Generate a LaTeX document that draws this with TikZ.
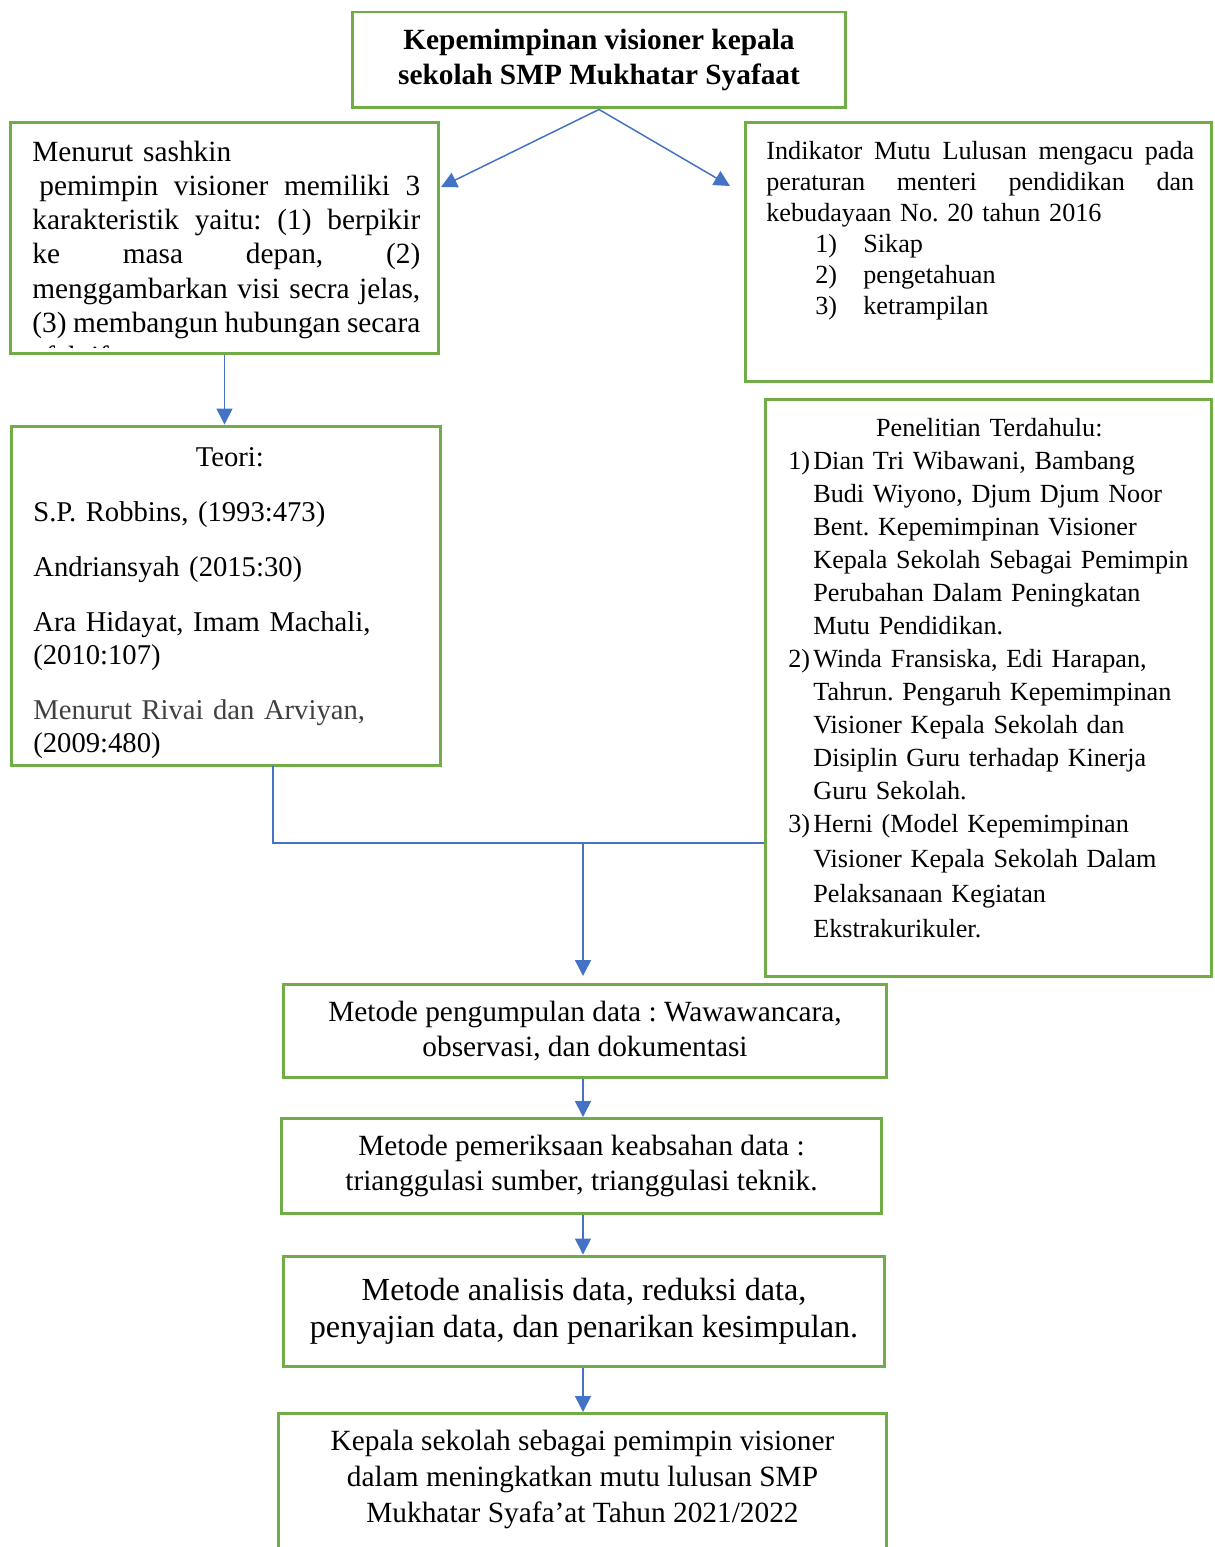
\documentclass[tikz,border=0pt]{standalone}
\usepackage{fontspec}
\setmainfont{Liberation Serif}
\usetikzlibrary{arrows.meta}
\definecolor{boxgreen}{HTML}{70AD47}
\definecolor{linkblue}{HTML}{4472C4}
\definecolor{greytext}{HTML}{404040}
\frenchspacing
% one stretched line of justified text
\newcommand{\jline}[1]{\makebox[\linewidth][s]{\spaceskip=0pt\xspaceskip=0pt #1}\\}
\tikzset{
  box/.style={draw=boxgreen,line width=1.7pt,rectangle,inner sep=0pt},
  txt/.style={inner sep=0pt,align=left,font=\fontsize{16.7}{19.4}\selectfont},
  smalltxt/.style={inner sep=0pt,align=left,font=\fontsize{14.9}{18.8}\selectfont},
  link/.style={draw=linkblue,line width=0.85pt},
  arr/.style={link,-{Triangle[width=9pt,length=9pt]}},
}
\begin{document}
\begin{tikzpicture}[x=0.02cm,y=-0.02cm]
\useasboundingbox (0,0) rectangle (1214,1547);
% boxes
\node[box,minimum width=9.88cm,minimum height=1.92cm,align=center,
  font=\fontsize{16.7}{19.9}\selectfont\bfseries] (top) at (599,60)
  {Kepemimpinan visioner kepala\\sekolah SMP Mukhatar Syafaat};
\node[box,minimum width=8.58cm,minimum height=4.64cm] (sash) at (224.5,238) {};
\node[box,minimum width=9.34cm,minimum height=5.2cm] (ind) at (978.5,252) {};
\node[box,minimum width=8.6cm,minimum height=6.8cm] (teori) at (226,596) {};
\node[box,minimum width=8.94cm,minimum height=11.56cm] (lit) at (988.5,688) {};
\node[box,minimum width=12.08cm,minimum height=1.86cm,align=center,
  font=\fontsize{16.7}{19.9}\selectfont] (m1) at (585,1031)
  {Metode pengumpulan data : Wawawancara,\\observasi, dan dokumentasi};
\node[box,minimum width=12.02cm,minimum height=1.9cm,align=center,
  font=\fontsize{16.7}{19.9}\selectfont] (m2) at (581.5,1166)
  {Metode pemeriksaan keabsahan data :\\trianggulasi sumber, trianggulasi teknik.};
\node[box,minimum width=12.04cm,minimum height=2.2cm,align=center,
  font=\fontsize{18.3}{21}\selectfont] (m3) at (584,1311)
  {Metode analisis data, reduksi data,\\penyajian data, dan penarikan kesimpulan.};
\node[box,minimum width=12.18cm,minimum height=3.2cm,anchor=north] (m4) at (582.5,1412) {};
\node[inner sep=0pt,align=center,font=\fontsize{16.7}{20.5}\selectfont] (m4t) at (582.5,1479)
  {Kepala sekolah sebagai pemimpin visioner\\dalam meningkatkan mutu lulusan SMP\\Mukhatar Syafa’at Tahun 2021/2022};
% texts
\begin{scope}
\clip (11,122) rectangle (440,347);
\node[txt,text width=7.76cm,anchor=north west] (sasht) at (32,141)
  {Menurut sashkin\\
   \jline{\kern4pt pemimpin visioner memiliki 3}
   \jline{karakteristik yaitu: (1) berpikir}
   \jline{ke masa depan, (2)}
   \jline{menggambarkan visi secra jelas,}
   \jline{(3) membangun hubungan secara}
   efektif};
\end{scope}
\node[smalltxt,font=\fontsize{14.9}{17.6}\selectfont,text width=8.56cm,anchor=north west] (indt) at (766,141)
  {\jline{Indikator Mutu Lulusan mengacu pada}
   \jline{peraturan menteri pendidikan dan}
   kebudayaan No. 20 tahun 2016\\
   \hspace*{0.98cm}\makebox[0.96cm][l]{1)}Sikap\\
   \hspace*{0.98cm}\makebox[0.96cm][l]{2)}pengetahuan\\
   \hspace*{0.98cm}\makebox[0.96cm][l]{3)}ketrampilan};
\node[txt,font=\fontsize{16.3}{18.8}\selectfont,text width=8cm,anchor=north west] (teorit) at (33,447)
  {\makebox[7.86cm]{Teori:}\\[12.5pt]
   S.P. Robbins, (1993:473)\\[12.5pt]
   Andriansyah (2015:30)\\[12.5pt]
   Ara Hidayat, Imam Machali,\\
   (2010:107)\\[12.5pt]
   \textcolor{greytext}{Menurut Rivai dan Arviyan,}\\
   (2009:480)};
\node[smalltxt,text width=8.2cm,anchor=north west] (litt) at (788,418)
  {\makebox[8.04cm]{Penelitian Terdahulu:}\\
   \makebox[0.5cm][l]{1)}Dian Tri Wibawani, Bambang\\
   \hspace*{0.5cm}Budi Wiyono, Djum Djum Noor\\
   \hspace*{0.5cm}Bent. Kepemimpinan Visioner\\
   \hspace*{0.5cm}Kepala Sekolah Sebagai Pemimpin\\
   \hspace*{0.5cm}Perubahan Dalam Peningkatan\\
   \hspace*{0.5cm}Mutu Pendidikan.\\
   \makebox[0.5cm][l]{2)}Winda Fransiska, Edi Harapan,\\
   \hspace*{0.5cm}Tahrun. Pengaruh Kepemimpinan\\
   \hspace*{0.5cm}Visioner Kepala Sekolah dan\\
   \hspace*{0.5cm}Disiplin Guru terhadap Kinerja\\
   \hspace*{0.5cm}Guru Sekolah.\\
   \makebox[0.5cm][l]{3)}Herni (Model Kepemimpinan\\[1pt]
   \hspace*{0.5cm}Visioner Kepala Sekolah Dalam\\[1pt]
   \hspace*{0.5cm}Pelaksanaan Kegiatan\\[1pt]
   \hspace*{0.5cm}Ekstrakurikuler.};
% connectors
\coordinate (aL) at (441,187);
\coordinate (aR) at (730,186);
\coordinate (t0) at (273,766);
\coordinate (j) at (583,843);
\draw[arr] (top.south) -- (aL);
\draw[arr] (top.south) -- (aR);
\draw[arr] (sash.south) -- (sash.south |- teori.north);
\draw[link] (t0) |- (j) -- (j -| lit.west);
\draw[arr,shorten >=4pt] (j) -- (j |- m1.north);
\draw[arr] (j |- m1.south) -- (j |- m2.north);
\draw[arr] (j |- m2.south) -- (j |- m3.north);
\draw[arr] (j |- m3.south) -- (j |- m4.north);
\end{tikzpicture}
\end{document}
